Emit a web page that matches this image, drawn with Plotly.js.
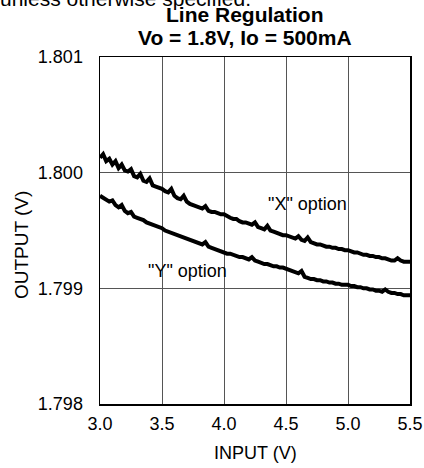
<!DOCTYPE html>
<html>
<head>
<meta charset="utf-8">
<script src="https://cdn.plot.ly/plotly-3.0.1.min.js"></script>
<style>html,body{margin:0;padding:0;background:#fff;}#chart{width:424px;height:468px;}</style>
</head>
<body>
<div id="chart"></div>
<script>
const inputV = [3.000,3.025,3.050,3.075,3.100,3.125,3.150,3.175,3.200,3.225,3.250,3.275,3.300,3.325,3.350,3.375,3.400,3.425,3.450,3.475,
3.500,3.525,3.550,3.575,3.600,3.625,3.650,3.675,3.700,3.725,3.750,3.775,3.800,3.825,3.850,3.875,3.900,3.925,3.950,3.975,
4.000,4.025,4.050,4.075,4.100,4.125,4.150,4.175,4.200,4.225,4.250,4.275,4.300,4.325,4.350,4.375,4.400,4.425,4.450,4.475,
4.500,4.525,4.550,4.575,4.600,4.625,4.650,4.675,4.700,4.725,4.750,4.775,4.800,4.825,4.850,4.875,4.900,4.925,4.950,4.975,
5.000,5.025,5.050,5.075,5.100,5.125,5.150,5.175,5.200,5.225,5.250,5.275,5.300,5.325,5.350,5.375,5.400,5.425,5.450,5.475,5.500];

const xOption = [1.80013,1.80016,1.80010,1.80012,1.80007,1.80010,1.80004,1.80007,1.80002,1.80001,1.80003,1.79997,1.79996,1.79999,1.79993,1.79992,1.79995,1.79989,1.79988,1.79987,
1.79986,1.79984,1.79983,1.79986,1.79980,1.79978,1.79977,1.79980,1.79975,1.79973,1.79972,1.79971,1.79970,1.79969,1.79971,1.79967,1.79966,1.79966,1.79965,1.79964,
1.79964,1.79962,1.79961,1.79960,1.79960,1.79958,1.79957,1.79957,1.79956,1.79955,1.79957,1.79953,1.79952,1.79951,1.79954,1.79950,1.79949,1.79948,1.79947,1.79946,
1.79946,1.79945,1.79944,1.79943,1.79945,1.79942,1.79941,1.79944,1.79940,1.79939,1.79938,1.79938,1.79937,1.79936,1.79936,1.79935,1.79935,1.79934,1.79934,1.79933,
1.79933,1.79932,1.79931,1.79931,1.79930,1.79929,1.79929,1.79928,1.79928,1.79927,1.79927,1.79926,1.79926,1.79925,1.79924,1.79924,1.79926,1.79924,1.79923,1.79923,1.79923];

const yOption = [1.79980,1.79978,1.79977,1.79975,1.79976,1.79972,1.79970,1.79972,1.79967,1.79965,1.79966,1.79962,1.79961,1.79960,1.79959,1.79957,1.79956,1.79955,1.79954,1.79953,
1.79952,1.79950,1.79949,1.79948,1.79947,1.79946,1.79945,1.79944,1.79943,1.79942,1.79941,1.79940,1.79939,1.79938,1.79940,1.79936,1.79935,1.79934,1.79933,1.79932,
1.79931,1.79930,1.79930,1.79929,1.79928,1.79927,1.79927,1.79926,1.79925,1.79927,1.79924,1.79923,1.79922,1.79921,1.79921,1.79920,1.79919,1.79919,1.79918,1.79918,
1.79917,1.79916,1.79915,1.79914,1.79913,1.79915,1.79910,1.79909,1.79908,1.79908,1.79907,1.79907,1.79906,1.79906,1.79905,1.79905,1.79904,1.79904,1.79903,1.79903,
1.79903,1.79902,1.79902,1.79901,1.79901,1.79900,1.79900,1.79899,1.79899,1.79898,1.79898,1.79897,1.79899,1.79897,1.79896,1.79896,1.79895,1.79895,1.79894,1.79894,1.79894];

const xTicks = [3.0,3.5,4.0,4.5,5.0,5.5];
const xTickLabels = ['3.0','3.5','4.0','4.5','5.0','5.5'];
const yTicks = [1.798,1.799,1.800,1.801];
const yTickLabels = ['1.798','1.799','1.800','1.801'];

const F = 'Arial, "Liberation Sans", sans-serif';
const L = 100, T = 57, W = 310, H = 347;
const px = v => (v - L) / W;
const py = v => 1 - (v - T) / H;

const traces = [
  {x: inputV, y: xOption, mode:'lines', line:{color:'#000', width:4}, name:'"X" option', hoverinfo:'skip'},
  {x: inputV, y: yOption, mode:'lines', line:{color:'#000', width:4}, name:'"Y" option', hoverinfo:'skip'}
];

const layout = {
  width:424, height:468,
  margin:{l:100, r:14, t:57, b:64},
  paper_bgcolor:'#fff', plot_bgcolor:'#fff',
  showlegend:false,
  font:{family:F, color:'#000', size:18},
  xaxis:{range:[3.0,5.5], tickvals:xTicks, ticktext:xTickLabels, showgrid:true, gridcolor:'#555', gridwidth:1,
         zeroline:false, showline:true, linecolor:'#000', linewidth:1.5, mirror:true, ticks:'', ticklen:0,
         ticklabelstandoff:3, tickfont:{size:18, family:F}},
  yaxis:{range:[1.798,1.801], tickvals:yTicks, ticktext:yTickLabels, showgrid:true, gridcolor:'#555', gridwidth:1,
         zeroline:false, showline:true, linecolor:'#000', linewidth:1.5, mirror:true, ticks:'', ticklen:0,
         ticklabelstandoff:12, tickfont:{size:18, family:F}},
  annotations:[
    {text:'unless otherwise specified.', xref:'paper', yref:'paper', x:px(-2), y:py(-1), showarrow:false, font:{size:21, family:F}, xanchor:'left', yanchor:'middle'},
    {text:'<b>Line Regulation</b>', xref:'paper', yref:'paper', x:px(245), y:py(14), showarrow:false, font:{size:21, family:F}, xanchor:'center', yanchor:'middle', borderpad:0},
    {text:'<b>Vo = 1.8V, Io = 500mA</b>', xref:'paper', yref:'paper', x:px(245), y:py(37), showarrow:false, font:{size:21, family:F}, xanchor:'center', yanchor:'middle', borderpad:0},
    {text:'INPUT (V)', xref:'paper', yref:'paper', x:px(255), y:py(453), showarrow:false, font:{size:18, family:F}, xanchor:'center', yanchor:'middle'},
    {text:'OUTPUT (V)', xref:'paper', yref:'paper', x:px(22), y:py(245), showarrow:false, textangle:-90, font:{size:19, family:F}, xanchor:'center', yanchor:'middle'},
    {text:'"X" option', x:4.673, y:1.79973, showarrow:false, font:{size:18, family:F}, xanchor:'center', yanchor:'middle'},
    {text:'"Y" option', x:3.706, y:1.79915, showarrow:false, font:{size:18, family:F}, xanchor:'center', yanchor:'middle'}
  ]
};

Plotly.newPlot('chart', traces, layout, {displayModeBar:false, staticPlot:true});
</script>
</body>
</html>
